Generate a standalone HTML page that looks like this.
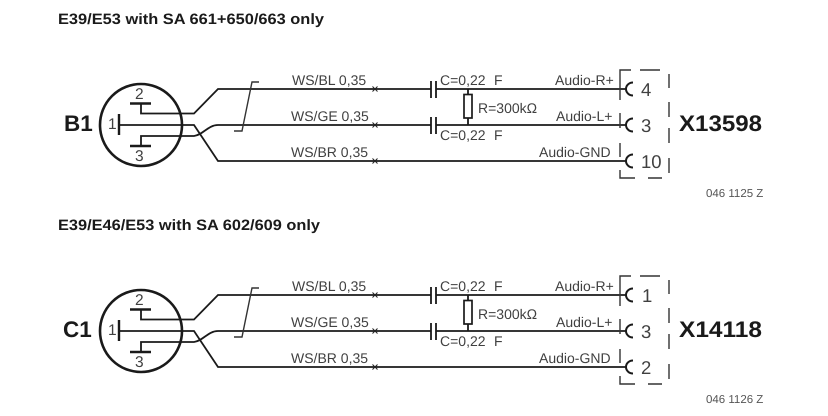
<!DOCTYPE html>
<html>
<head>
<meta charset="utf-8">
<style>
html,body{margin:0;padding:0;background:#fff}
svg{display:block;filter:blur(.3px)}
text{font-family:"Liberation Sans",sans-serif;fill:#404040;font-size:14px;text-rendering:geometricPrecision}
.t{font-weight:bold;fill:#1a1a1a;font-size:15px}
.w{fill:none;stroke:#1a1a1a;stroke-width:1.8}
.bar{fill:none;stroke:#1a1a1a;stroke-width:2.4}
.arc{fill:none;stroke:#1a1a1a;stroke-width:2}
.d{fill:none;stroke:#333;stroke-width:1.4}
.x{fill:none;stroke:#222;stroke-width:1}
.n{font-size:18.5px}
.p{font-size:15.5px}
.big{font-weight:bold;fill:#1a1a1a;font-size:22.5px}
.c{font-size:11.5px;fill:#555}
</style>
</head>
<body>
<svg width="828" height="416" viewBox="0 0 828 416" xmlns="http://www.w3.org/2000/svg">
<rect width="828" height="416" fill="#fff"/>
<text class="t" x="58" y="24" textLength="266" lengthAdjust="spacingAndGlyphs">E39/E53 with SA 661+650/663 only</text>
<text class="t" x="58" y="230" textLength="262" lengthAdjust="spacingAndGlyphs">E39/E46/E53 with SA 602/609 only</text>

<g>
<circle cx="141" cy="125" r="41" fill="none" stroke="#1a1a1a" stroke-width="2.6"/>
<path class="bar" d="M130 103.500H151M130 146H151M119 114V135"/>
<path class="w" d="M141 103V113.500H194L218 89H431M436 89H626"/>
<path class="w" d="M119 125H194L218 161H626"/>
<path class="w" d="M141 146V136H194C203 135 208 125 218 125H431M436 125H626"/>
<path class="d" d="M259 82H252L242 131H234"/>
<path class="x" d="M372.500 86.500L377.500 91.500M377.500 86.500L372.500 91.500M372.500 122.500L377.500 127.500M377.500 122.500L372.500 127.500M372.500 158.500L377.500 163.500M377.500 158.500L372.500 163.500"/>
<path class="w" d="M431 81V98M436 81V98M431 117V134M436 117V134M468 89V94M468 118V125"/>
<rect x="464" y="94.500" width="8" height="23.500" fill="#fff" stroke="#1a1a1a" stroke-width="1.7"/>
<path class="arc" d="M633 82.500A7 6.500 0 1 0 633 95.500"/>
<path class="arc" d="M633 118.500A7 6.500 0 1 0 633 131.500"/>
<path class="arc" d="M633 154.500A7 6.500 0 1 0 633 167.500"/>
<path class="d" d="M631 70H620V100M640 70H660M669 74V88M669 102V117M669 128V143M669 158V173M620 113V128M620 143V157M620 170V178H635M648 178H662"/>
<text x="292" y="85">WS/BL 0,35</text>
<text x="291" y="121">WS/GE 0,35</text>
<text x="291" y="157">WS/BR 0,35</text>
<text x="440" y="85">C=0,22</text><text x="494" y="85">F</text>
<text x="440" y="140">C=0,22</text><text x="494" y="140">F</text>
<text x="478" y="113">R=300kΩ</text>
<text x="555" y="85">Audio-R+</text>
<text x="556" y="121">Audio-L+</text>
<text x="539" y="157">Audio-GND</text>
</g>
<text class="big" x="64" y="131">B1</text>
<text class="p" x="135" y="99">2</text>
<text class="p" x="108" y="129">1</text>
<text class="p" x="135" y="161">3</text>
<text class="n" x="641" y="96">4</text>
<text class="n" x="641" y="132">3</text>
<text class="n" x="641" y="168">10</text>
<text class="big" x="679" y="131" textLength="83" lengthAdjust="spacingAndGlyphs">X13598</text>
<text class="c" x="706" y="197">046 1125 Z</text>

<g transform="translate(0 206)">
<circle cx="141" cy="125" r="41" fill="none" stroke="#1a1a1a" stroke-width="2.6"/>
<path class="bar" d="M130 103.500H151M130 146H151M119 114V135"/>
<path class="w" d="M141 103V113.500H194L218 89H431M436 89H626"/>
<path class="w" d="M119 125H194L218 161H626"/>
<path class="w" d="M141 146V136H194C203 135 208 125 218 125H431M436 125H626"/>
<path class="d" d="M259 82H252L242 131H234"/>
<path class="x" d="M372.500 86.500L377.500 91.500M377.500 86.500L372.500 91.500M372.500 122.500L377.500 127.500M377.500 122.500L372.500 127.500M372.500 158.500L377.500 163.500M377.500 158.500L372.500 163.500"/>
<path class="w" d="M431 81V98M436 81V98M431 117V134M436 117V134M468 89V94M468 118V125"/>
<rect x="464" y="94.500" width="8" height="23.500" fill="#fff" stroke="#1a1a1a" stroke-width="1.7"/>
<path class="arc" d="M633 82.500A7 6.500 0 1 0 633 95.500"/>
<path class="arc" d="M633 118.500A7 6.500 0 1 0 633 131.500"/>
<path class="arc" d="M633 154.500A7 6.500 0 1 0 633 167.500"/>
<path class="d" d="M631 70H620V100M640 70H660M669 74V88M669 102V117M669 128V143M669 158V173M620 113V128M620 143V157M620 170V178H635M648 178H662"/>
<text x="292" y="85">WS/BL 0,35</text>
<text x="291" y="121">WS/GE 0,35</text>
<text x="291" y="157">WS/BR 0,35</text>
<text x="440" y="85">C=0,22</text><text x="494" y="85">F</text>
<text x="440" y="140">C=0,22</text><text x="494" y="140">F</text>
<text x="478" y="113">R=300kΩ</text>
<text x="555" y="85">Audio-R+</text>
<text x="556" y="121">Audio-L+</text>
<text x="539" y="157">Audio-GND</text>
</g>
<text class="big" x="63" y="337">C1</text>
<text class="p" x="135" y="305">2</text>
<text class="p" x="108" y="335">1</text>
<text class="p" x="135" y="367">3</text>
<text class="n" x="642" y="302">1</text>
<text class="n" x="641" y="338">3</text>
<text class="n" x="641" y="374">2</text>
<text class="big" x="679" y="337" textLength="83" lengthAdjust="spacingAndGlyphs">X14118</text>
<text class="c" x="706" y="403">046 1126 Z</text>
</svg>
</body>
</html>
